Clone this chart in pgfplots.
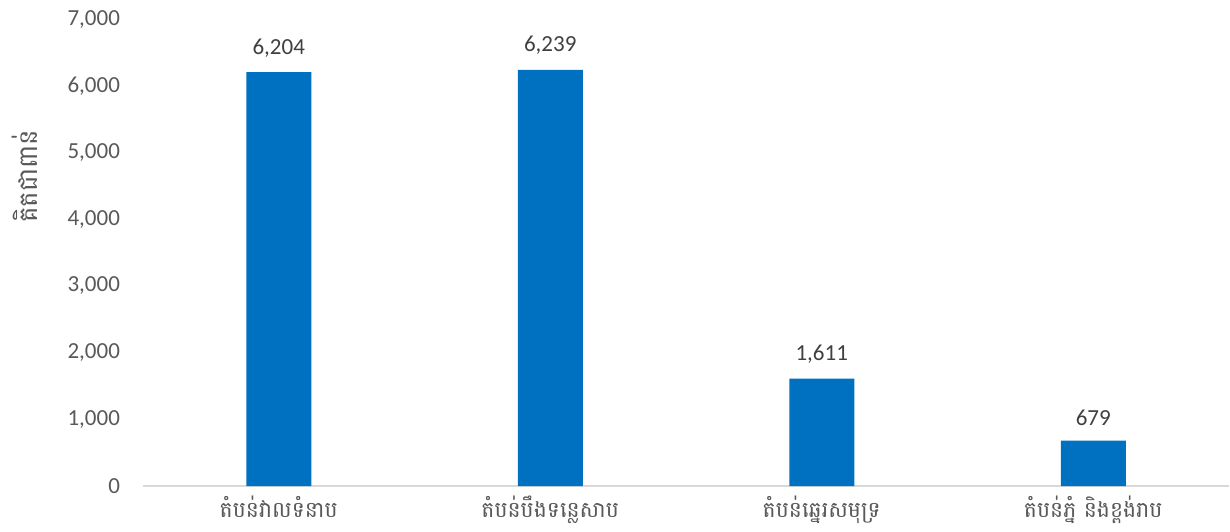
\documentclass[border=0pt]{standalone}
\usepackage{pgfplots}
\pgfplotsset{compat=1.18}
\usepackage{fontspec}
\setmainfont{Carlito}
\newfontfamily\khmer[Script=Khmer]{Battambang}
\definecolor{barblue}{HTML}{0070C0}
\definecolor{ticktext}{HTML}{595959}
\definecolor{labeltext}{HTML}{404040}
\definecolor{axisgray}{HTML}{D9D9D9}
\begin{document}
\begin{tikzpicture}
\useasboundingbox (-71.5pt,-22.5pt) rectangle (543.5pt,243pt);
\begin{axis}[
  scale only axis,
  width=543pt, height=233.5pt,
  xmin=-0.5, xmax=3.5,
  ymin=0, ymax=7000,
  ytick={0,1000,...,7000},
  xtick={0,1,2,3},
  xticklabels={{\khmer តំបន់វាលទំនាប},{\khmer តំបន់បឹងទន្លេសាប},{\khmer តំបន់ឆ្នេរសមុទ្រ},{\khmer តំបន់ភ្នំ និងខ្ពង់រាប}},
  axis x line*=bottom,
  axis y line*=left,
  x axis line style={draw=axisgray, line width=0.6pt, -},
  y axis line style={draw=none},
  major tick length=0pt,
  xtick style={draw=none},
  ytick style={draw=none},
  /pgf/number format/assume math mode=true,
  /pgf/number format/1000 sep={,},
  tick label style={font=\fontsize{11.5}{13}\selectfont, text=ticktext},
  x tick label style={font=\fontsize{11}{13}\selectfont, yshift=-1.5pt},
  y tick label style={xshift=-8pt},
  clip=false,
  nodes near coords,
  every node near coord/.append style={font=\fontsize{11.5}{13}\selectfont, text=labeltext, yshift=4pt},
]
\addplot[ybar, bar width=32.5pt, fill=barblue, draw=none] coordinates {(0,6204) (1,6239) (2,1611) (3,679)};
\end{axis}
\node[rotate=90, text=ticktext, font=\khmer\fontsize{13}{15}\selectfont] at (-59pt,155pt) {គិតជាពាន់};
\end{tikzpicture}
\end{document}
